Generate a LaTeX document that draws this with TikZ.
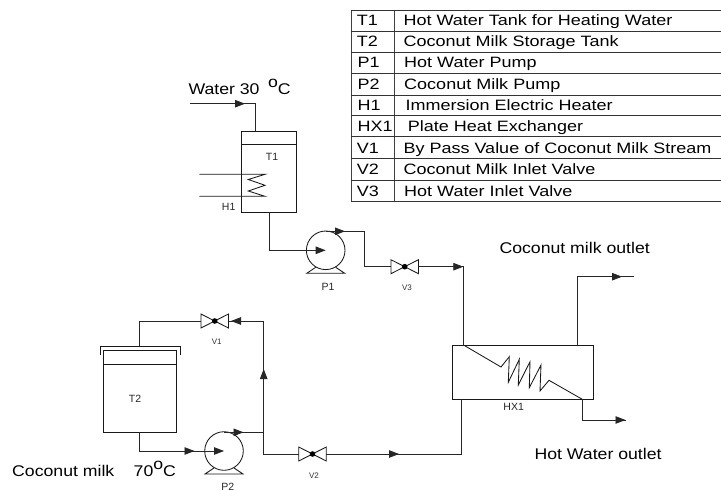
\documentclass[tikz,border=0pt]{standalone}
\usepackage{fontspec}
\setmainfont{Liberation Sans}
\usetikzlibrary{arrows.meta}
\tikzset{
  x=1pt,y=-1pt,
  pipe/.style={draw=black!85,line width=0.85pt},
  flow/.style={pipe,-{Stealth[length=10pt,width=7.5pt,inset=0pt]}},
  pumpbody/.style={circle,draw=black!90,line width=0.85pt,minimum size=38.6pt,inner sep=0pt,outer sep=0pt},
  vessel/.style={rectangle,draw=black!90,line width=0.85pt,inner sep=0pt,outer sep=0pt},
  valvebox/.style={rectangle,inner sep=0pt,outer sep=0pt,minimum width=27.5pt,minimum height=14pt},
  big/.style={font=\fontsize{15.5}{16}\selectfont,inner sep=0pt,anchor=base west,xscale=1.14,transform shape},
  cell/.style={font=\fontsize{15}{16}\selectfont,inner sep=0pt,anchor=base west,xscale=1.2,transform shape},
  tag/.style={font=\fontsize{10.5}{11}\selectfont,inner sep=0pt,text=black!85},
  smalltag/.style={font=\fontsize{8}{9}\selectfont,inner sep=0pt,text=black!80},
}
\begin{document}
\begin{tikzpicture}
\useasboundingbox (0,0) rectangle (721,490);
% legend table
\draw[draw=black!75,line width=0.9pt] (351,10) -- (351,201.7) (394,10) -- (394,201.7);
\foreach \yy in {10,31.7,52.3,73.3,95,115.7,136.7,158,180,201.7}
  \draw[draw=black!80,line width=0.85pt] (351,\yy) -- (721,\yy);
\foreach \nm/\xa/\yy/\xb/\txt in {
  a/356.7/25/403.3/Hot Water Tank for Heating Water,
  b/356.7/46.5/403.3/Coconut Milk Storage Tank,
  c/357.3/67.5/404/Hot Water Pump,
  d/357.3/89/404/Coconut Milk Pump,
  e/357.3/110.5/405.3/Immersion Electric Heater,
  f/357.3/131.5/407.7/Plate Heat Exchanger,
  g/356.7/153/403.3/By Pass Value of Coconut Milk  Stream,
  h/356.7/174.5/403.3/Coconut Milk Inlet Valve,
  i/356.7/196/404/Hot Water Inlet Valve}
  \node[cell] (desc\nm) at (\xb,\yy) {\txt};
\foreach \nm/\xa/\yy/\txt in {
  a/356.7/25/T1,b/356.7/46.5/T2,c/357.3/67.5/P1,d/357.3/89/P2,e/357.3/110.5/H1,
  f/357.3/131.5/HX1,g/356.7/153/V1,h/356.7/174.5/V2,i/356.7/196/V3}
  \node[cell] (code\nm) at (\xa,\yy) {\txt};

% equipment
\node[vessel,minimum width=54.3pt,minimum height=81.3pt] (T1) at (268.85,171.65) {};
\draw[vessel] (T1.west |- 0,144.3) -- (T1.east |- 0,144.3);
\node[vessel,minimum width=73.4pt,minimum height=82.3pt] (T2) at (140,391.15) {};
\draw[vessel] (T2.west |- 0,364.3) -- (T2.east |- 0,364.3);
\coordinate (T2lidL) at (100,346);
\coordinate (T2lidR) at (180,346);
\draw[vessel] (100,354.7) -- (T2lidL) -- (T2lidR) -- (180,354.7);
\node[vessel,minimum width=141.4pt,minimum height=54pt] (HX) at (523,372.3) {};
\node[pumpbody] (P1) at (325.7,250.3) {};
\node[pumpbody] (P2) at (224,451) {};
\foreach \p in {P1,P2}
  \draw[vessel] ([shift={(-10,17)}]\p.center) -- ([shift={(-19,23)}]\p.center) -- ([shift={(19,23)}]\p.center) -- ([shift={(10,17)}]\p.center);
\node[valvebox] (V1) at (214.7,321) {};
\node[valvebox] (V2) at (312.5,454) {};
\node[valvebox] (V3) at (404.7,266.7) {};
\foreach \v in {V1,V2,V3}{
  \draw[vessel] (\v.north west) -- (\v.south east) -- (\v.north east) -- (\v.south west) -- cycle;
  \fill[black] (\v.center) circle (2.8pt);
}
% heater coil
\coordinate (HtA) at (199.3,174.3);
\coordinate (HtB) at (265,174.3);
\coordinate (HtC) at (265,196.3);
\coordinate (HtD) at (199.3,196.3);
\draw[vessel] (HtA) -- (HtB) -- (248.3,179.5) -- (265,185.3) -- (248.3,191) -- (HtC) -- (HtD);
% exchanger coil
\draw[vessel] (464,345.3) -- (501,367) -- (509.3,356.7) -- (508.3,382.3) -- (519.3,359.3) -- (518.3,385) -- (530,361.7) -- (529.3,387.7) -- (541,365) -- (540,391) -- (549,380.3) -- (582.3,399.3);

% connectors
\coordinate (WaterIn) at (190,103.7);
\coordinate (WaterTip) at (245,103.7);
\coordinate (WaterBend) at (255.3,103.7);
\draw[pipe] (WaterIn) -- (WaterBend) -- (WaterBend |- T1.north);
\draw[flow] (222,103.7) -- (WaterTip);

\coordinate (T1out) at (269,212.3);
\coordinate (T1bend) at (269,250.3);
\draw[pipe] (T1out) -- (T1bend) -- (300,250.3);
\draw[flow] (300,250.3) -- (P1.center);

\coordinate (P1top) at (325.7,231.3);
\coordinate (P1bend) at (364,231.3);
\coordinate (P1low) at (364,266.7);
\draw[pipe] (P1top) -- (P1bend) -- (P1low) -- (V3.west);
\draw[flow] (335,231.3) -- (345,231.3);

\coordinate (V3bend) at (463.3,266.7);
\coordinate (HXhot) at (463.3,345.3);
\draw[pipe] (V3.east) -- (V3bend) -- (HXhot);
\draw[flow] (440,266.7) -- (V3bend);

\coordinate (T2out) at (139.7,432.3);
\coordinate (T2bend) at (139.7,451);
\draw[pipe] (T2out) -- (T2bend) -- (205,451);
\draw[flow] (170,451) -- (194.5,451);
\draw[flow] (205,451) -- (P2.center);

\coordinate (P2top) at (224,432.3);
\coordinate (Tee) at (263.7,432.3);
\coordinate (TeeLow) at (263.7,454);
\coordinate (TeeUp) at (263.7,321);
\draw[pipe] (P2top) -- (Tee);
\draw[flow] (233,432.3) -- (243.5,432.3);
\draw[pipe] (Tee) -- (TeeLow) -- (V2.west);
\draw[pipe] (Tee) -- (TeeUp) -- (V1.east);
\draw[flow] (263.7,400) -- (263.7,369);
\draw[flow] (250,321) -- (231,321);

\coordinate (V1bend) at (139.7,321);
\coordinate (T2in) at (139.7,346);
\draw[pipe] (V1.west) -- (V1bend) -- (T2in);

\coordinate (V2bend) at (461.7,454);
\coordinate (HXcold) at (461.7,399.3);
\draw[pipe] (V2.east) -- (V2bend) -- (HXcold);
\draw[flow] (370,454) -- (399,454);

\coordinate (HXtop) at (577.7,345.3);
\coordinate (Obend) at (577.7,276.7);
\coordinate (Oend) at (634,276.7);
\draw[pipe] (HXtop) -- (Obend) -- (Oend);
\draw[flow] (600,276.7) -- (622,276.7);

\coordinate (HXbot) at (582.3,399.3);
\coordinate (Hbend) at (582.3,420);
\coordinate (Hend) at (625.5,420);
\draw[pipe] (HXbot) -- (Hbend) -- (Hend);
\draw[flow] (605,420) -- (Hend);

% labels
\node[big] (lblWater) at (188.3,94) {Water 30\hspace{7.5pt}\raisebox{7pt}{o}C};
\node[big] (lblOut) at (499.3,253.3) {Coconut milk outlet};
\node[big] (lblHot) at (534.3,459.3) {Hot Water outlet};
\node[big] (lblMilk) at (12,476.7) {Coconut milk\hspace{17pt}70\raisebox{7pt}{o}C};
\node[tag] (lblT1) at (272,157) {T1};
\node[tag] (lblH1) at (228.7,207.3) {H1};
\node[tag] (lblT2) at (135,399) {T2};
\node[tag] (lblP1) at (328,286.7) {P1};
\node[tag] (lblP2) at (227.7,486.7) {P2};
\node[tag] (lblHX) at (513.7,406.7) {HX1};
\node[smalltag] (lblV1) at (216.7,342) {V1};
\node[smalltag] (lblV2) at (314,475.7) {V2};
\node[smalltag] (lblV3) at (407,288) {V3};
\end{tikzpicture}
\end{document}
